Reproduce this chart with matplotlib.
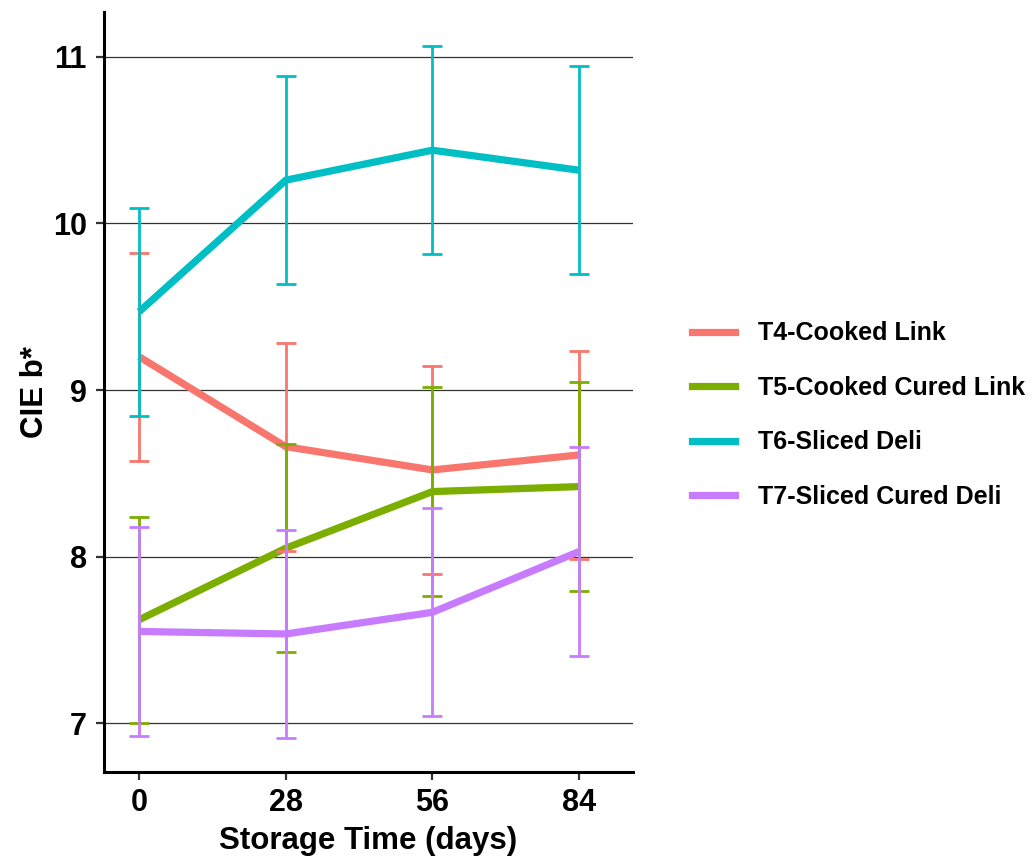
import matplotlib
matplotlib.use("Agg")
import matplotlib.pyplot as plt
from matplotlib.lines import Line2D

plt.rcParams['font.family'] = ['Liberation Sans', 'DejaVu Sans']

days = [0, 28, 56, 84]
series_names = ["T4-Cooked Link", "T5-Cooked Cured Link", "T6-Sliced Deli", "T7-Sliced Cured Deli"]
t4_mean = [9.20, 8.66, 8.52, 8.61]
t4_err = [0.625, 0.625, 0.625, 0.625]
t5_mean = [7.62, 8.05, 8.39, 8.42]
t5_err = [0.62, 0.625, 0.627, 0.627]
t6_mean = [9.47, 10.26, 10.44, 10.32]
t6_err = [0.625, 0.625, 0.625, 0.625]
t7_mean = [7.55, 7.535, 7.665, 8.03]
t7_err = [0.63, 0.625, 0.625, 0.63]
colors = ["#F8766D", "#7CAE00", "#00BFC4", "#C77CFF"]

means = [t4_mean, t5_mean, t6_mean, t7_mean]
errs = [t4_err, t5_err, t6_err, t7_err]

fig = plt.figure(figsize=(10.34, 8.58), dpi=100)
ax = fig.add_axes([104/1034, 1-772/858, (633-104)/1034, (772-12)/858])

for m, c in zip(means, colors):
    ax.plot(days, m, color=c, lw=5.2, solid_capstyle='butt', zorder=3)
for m, e, c in zip(means, errs, colors):
    ax.errorbar(days, m, yerr=e, fmt='none', ecolor=c, elinewidth=2.0,
                capsize=7.5, capthick=2.0, zorder=4)

ax.set_xlim(-6.7, 94.3)
ax.set_ylim(6.706, 11.27)
ax.set_xticks(days)
ax.set_yticks([7, 8, 9, 10, 11])
ax.yaxis.grid(True, color='#333333', lw=0.9)
ax.set_axisbelow(True)
for s in ['top', 'right']:
    ax.spines[s].set_visible(False)
for s in ['left', 'bottom']:
    ax.spines[s].set_linewidth(2.2)
    ax.spines[s].set_color('black')
ax.tick_params(axis='both', length=5.5, width=1.6, color='#333333',
               labelcolor='black', labelsize=22)
ax.tick_params(axis='x', pad=6)
ax.tick_params(axis='y', pad=7)
for lab in ax.get_xticklabels() + ax.get_yticklabels():
    lab.set_fontweight('bold')
ax.set_xlabel("Storage Time (days)", fontsize=22.5, fontweight='bold', labelpad=6)
ax.set_ylabel("CIE b*", fontsize=22.5, fontweight='bold', labelpad=2)

handles = [Line2D([0], [0], color=c, lw=5.2) for c in colors]
leg = fig.legend(handles, series_names, loc='center left',
                 bbox_to_anchor=(692/1034, 1-415/858), frameon=False,
                 prop={'weight': 'bold', 'size': 18}, handlelength=1.72,
                 labelspacing=1.22, handletextpad=0.92,
                 borderpad=0, borderaxespad=0)

fig.savefig("out.png", dpi=100)
